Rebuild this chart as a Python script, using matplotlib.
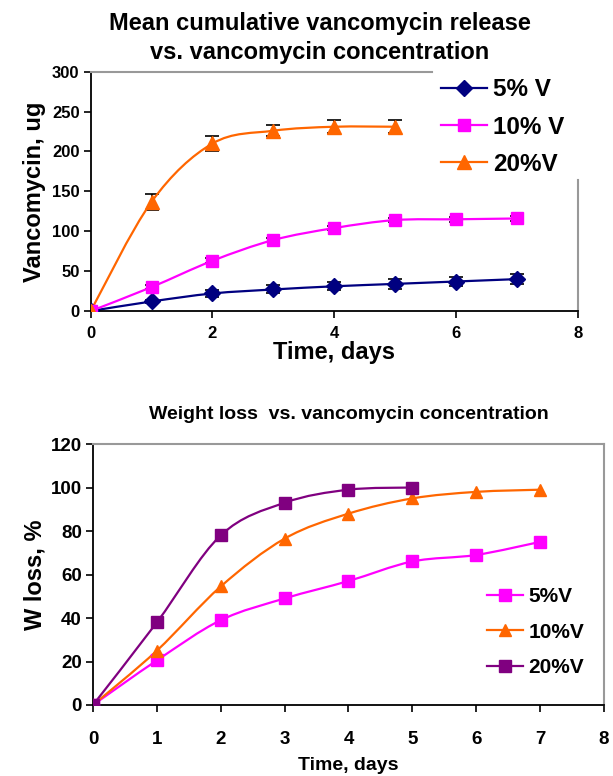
import numpy as np
import matplotlib
matplotlib.use("Agg")
import matplotlib.pyplot as plt
from matplotlib.path import Path
from matplotlib.patches import PathPatch

# release data (top chart)
rel_days_5 = [0, 1, 2, 3, 4, 5, 6, 7]
rel_5 = [0, 12, 22, 27, 31, 34, 37, 40]
rel_5_err = [0, 2, 4, 5, 5, 6, 6, 6]
rel_days_10 = [0, 1, 2, 3, 4, 5, 6, 7]
rel_10 = [0, 30, 63, 89, 104, 114, 115, 116]
rel_10_err = [0, 2, 3, 3, 3, 3, 3, 3]
rel_days_20 = [0, 1, 2, 3, 4, 5]
rel_20 = [0, 137, 210, 226, 231, 231]
rel_20_err = [0, 10, 9, 7, 8, 8]
rel_labels = ["5% V", "10% V", "20%V"]

# weight loss data (bottom chart)
wl_days_5 = [0, 1, 2, 3, 4, 5, 6, 7]
wl_5 = [0, 20.5, 39, 49, 57, 66, 69, 75]
wl_days_10 = [0, 1, 2, 3, 4, 5, 6, 7]
wl_10 = [0, 25, 54.5, 76.5, 88, 95, 98, 99]
wl_days_20 = [0, 1, 2, 3, 4, 5]
wl_20 = [0, 38, 78, 93, 99, 100]
wl_labels = ["5%V", "10%V", "20%V"]

NAVY = "#000080"
MAGENTA = "#FF00FF"
ORANGE = "#FF6600"
PURPLE = "#800080"
GRAY = "#999999"

BOLD = ["Liberation Sans", "DejaVu Sans"]


def smooth_line(ax, x, y, color, lw=1.6):
    # excel style smoothed line: cubic bezier segments through the points
    x = np.asarray(x, float)
    y = np.asarray(y, float)
    n = len(x)
    verts = [(x[0], y[0])]
    codes = [Path.MOVETO]
    for i in range(n - 1):
        p0 = np.array([x[max(i - 1, 0)], y[max(i - 1, 0)]])
        p1 = np.array([x[i], y[i]])
        p2 = np.array([x[i + 1], y[i + 1]])
        p3 = np.array([x[min(i + 2, n - 1)], y[min(i + 2, n - 1)]])
        c1 = p1 + (p2 - p0) / 6.0
        c2 = p2 - (p3 - p1) / 6.0
        verts += [tuple(c1), tuple(c2), tuple(p2)]
        codes += [Path.CURVE4] * 3
    patch = PathPatch(Path(verts, codes), facecolor="none", edgecolor=color,
                      lw=lw, zorder=2)
    ax.add_patch(patch)


def style_ticks(ax, size):
    for lbl in ax.get_xticklabels() + ax.get_yticklabels():
        lbl.set_family(BOLD)
        lbl.set_fontweight("bold")
        lbl.set_fontsize(size)


fig = plt.figure(figsize=(6.13, 7.76), dpi=100)

# ---------- top chart ----------
ax1 = fig.add_axes([0.148, 0.5992, 0.7945, 0.3084])
series1 = [
    (rel_days_5, rel_5, rel_5_err, NAVY, "D", 8),
    (rel_days_10, rel_10, rel_10_err, MAGENTA, "s", 9),
    (rel_days_20, rel_20, rel_20_err, ORANGE, "^", 10),
]
handles = []
for (xd, yd, err, col, mk, ms), lab in zip(series1, rel_labels):
    ax1.errorbar(xd, yd, yerr=err, fmt="none", ecolor="black", elinewidth=1.2,
                 capsize=5, capthick=1.2, zorder=2)
    smooth_line(ax1, xd, yd, col)
    ax1.plot(xd, yd, ls="none", color=col, marker=mk, ms=ms,
             mec=col, mfc=col, zorder=3)
    handles.append(ax1.plot([], [], color=col, marker=mk, ms=ms, lw=1.6)[0])

ax1.set_xlim(0, 8)
ax1.set_ylim(0, 300)
ax1.set_xticks([0, 2, 4, 6, 8])
ax1.set_yticks(range(0, 301, 50))
style_ticks(ax1, 12)
ax1.tick_params(axis="x", direction="out", length=5, width=1.2, pad=5.5)
ax1.tick_params(axis="y", direction="out", length=5, width=1.2, pad=3)
ax1.spines["left"].set_linewidth(1.3)
ax1.spines["bottom"].set_linewidth(1.3)
for side in ["top", "right"]:
    ax1.spines[side].set_color(GRAY)
    ax1.spines[side].set_linewidth(1.5)
ax1.spines["top"].set_bounds(0, 5.6)
ax1.spines["right"].set_bounds(0, 164)
ax1.set_xlabel("Time, days", family=BOLD, fontweight="bold", fontsize=17,
               labelpad=0)
ax1.set_ylabel("Vancomycin, ug", family=BOLD, fontweight="bold", fontsize=17,
               labelpad=4)
fig.text(0.522, 0.984, "Mean cumulative vancomycin release\nvs. vancomycin concentration",
         ha="center", va="top", family=BOLD, fontweight="bold", fontsize=17,
         linespacing=1.3)
ax1.legend(handles, rel_labels, loc="upper left",
           bbox_to_anchor=(0.719, 0.972), frameon=False, borderpad=0,
           borderaxespad=0,
           prop={"family": BOLD, "weight": "bold", "size": 17.5},
           handlelength=1.9, handletextpad=0.25, labelspacing=0.58)

# ---------- bottom chart ----------
ax2 = fig.add_axes([0.1517, 0.0915, 0.8336, 0.3363])
series2 = [
    (wl_days_5, wl_5, MAGENTA, "s", 8),
    (wl_days_10, wl_10, ORANGE, "^", 8),
    (wl_days_20, wl_20, PURPLE, "s", 8),
]
handles2 = []
for (xd, yd, col, mk, ms), lab in zip(series2, wl_labels):
    smooth_line(ax2, xd, yd, col)
    ax2.plot(xd, yd, ls="none", color=col, marker=mk, ms=ms, mec=col,
             mfc=col, zorder=3)
    handles2.append(ax2.plot([], [], color=col, marker=mk, ms=ms, lw=1.6)[0])

ax2.set_xlim(0, 8)
ax2.set_ylim(0, 120)
ax2.set_xticks(range(0, 9))
ax2.set_yticks(range(0, 121, 20))
style_ticks(ax2, 13.5)
ax2.tick_params(axis="x", direction="out", length=5, width=1.2, pad=14)
ax2.tick_params(axis="y", direction="out", length=5, width=1.2, pad=3)
ax2.spines["left"].set_linewidth(1.3)
ax2.spines["bottom"].set_linewidth(1.3)
for side in ["top", "right"]:
    ax2.spines[side].set_color(GRAY)
    ax2.spines[side].set_linewidth(1.5)
ax2.set_xlabel("Time, days", family=BOLD, fontweight="bold", fontsize=14,
               labelpad=6)
ax2.set_ylabel("W loss, %", family=BOLD, fontweight="bold", fontsize=17,
               labelpad=3)
ax2.set_title("Weight loss  vs. vancomycin concentration", family=BOLD,
              fontweight="bold", fontsize=14, pad=18)
ax2.legend(handles2, wl_labels, loc="upper left", bbox_to_anchor=(0.771, 0.452),
           frameon=False, borderpad=0, borderaxespad=0,
           prop={"family": BOLD, "weight": "bold", "size": 15},
           handlelength=1.75, handletextpad=0.25, labelspacing=0.8)

fig.savefig("out.png", dpi=100)
